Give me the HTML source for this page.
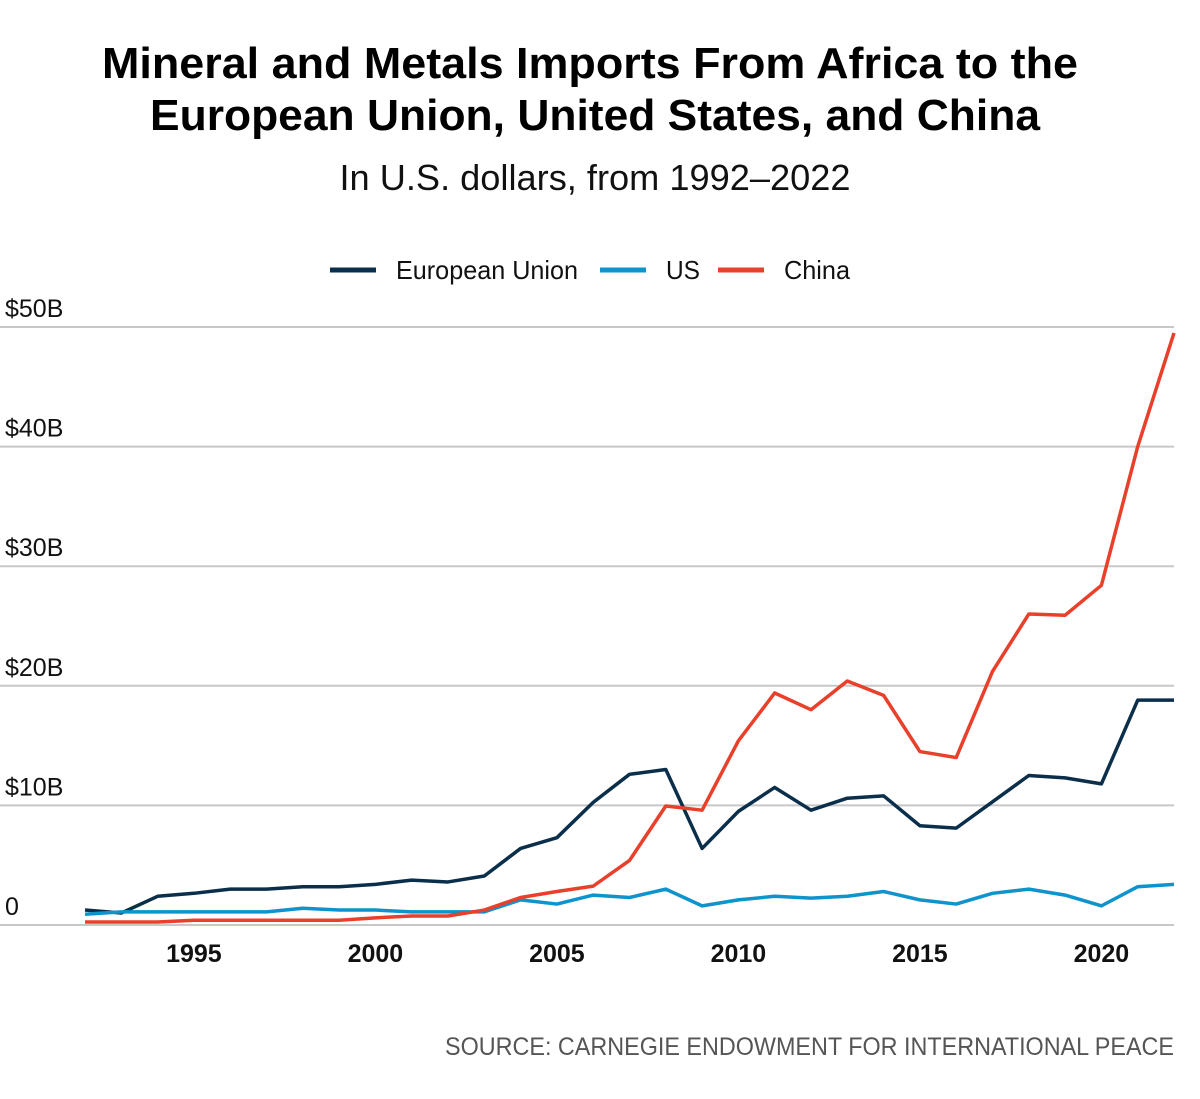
<!DOCTYPE html>
<html><head><meta charset="utf-8"><style>
body{margin:0;background:#fff;}
svg text{font-family:"Liberation Sans",sans-serif;}
</style></head><body>
<svg id="chart" width="1200" height="1094" viewBox="0 0 1200 1094" xmlns="http://www.w3.org/2000/svg">
<text x="590" y="78" text-anchor="middle" font-size="44" font-weight="bold" textLength="976" lengthAdjust="spacingAndGlyphs" fill="#000">Mineral and Metals Imports From Africa to the</text>
<text x="595" y="130" text-anchor="middle" font-size="44" font-weight="bold" textLength="890" lengthAdjust="spacingAndGlyphs" fill="#000">European Union, United States, and China</text>
<text x="595" y="190" text-anchor="middle" font-size="36" textLength="511" lengthAdjust="spacingAndGlyphs" fill="#111">In U.S. dollars, from 1992–2022</text>
<g id="legend"></g>
<g id="grid"></g>
<g id="series"></g>
<text x="1174" y="1055" text-anchor="end" font-size="25" textLength="729" lengthAdjust="spacingAndGlyphs" fill="#555">SOURCE: CARNEGIE ENDOWMENT FOR INTERNATIONAL PEACE</text>
</svg>
<script>
const years = [1992,1993,1994,1995,1996,1997,1998,1999,2000,2001,2002,2003,2004,2005,2006,2007,2008,2009,2010,2011,2012,2013,2014,2015,2016,2017,2018,2019,2020,2021,2022];
const euValues = [1.25,1.0,2.4,2.65,3.0,3.0,3.2,3.2,3.4,3.75,3.6,4.1,6.4,7.3,10.25,12.6,13.0,6.4,9.5,11.5,9.6,10.6,10.8,8.3,8.1,10.3,12.5,12.3,11.8,18.8,18.8];
const usValues = [0.9,1.1,1.1,1.1,1.1,1.1,1.4,1.25,1.25,1.1,1.1,1.1,2.1,1.75,2.5,2.3,3.0,1.6,2.1,2.4,2.25,2.4,2.8,2.1,1.75,2.65,3.0,2.5,1.6,3.2,3.4];
const chinaValues = [0.25,0.25,0.25,0.4,0.4,0.4,0.4,0.4,0.6,0.75,0.75,1.25,2.3,2.8,3.25,5.4,9.95,9.6,15.4,19.4,18.0,20.4,19.2,14.5,14.0,21.2,26.0,25.9,28.4,40.0,49.5];
const yTicks = [0,10,20,30,40,50];
const yTickLabels = ["0","$10B","$20B","$30B","$40B","$50B"];
const xTicks = [1995,2000,2005,2010,2015,2020];
const seriesNames = ["European Union","US","China"];

const NS="http://www.w3.org/2000/svg";
const x = yr => 85 + (yr-1992)*(1174-85)/30;
const y = v => 925 - v*(925-327)/50;
function mk(tag, attrs, parent){const e=document.createElementNS(NS,tag);for(const k in attrs)e.setAttribute(k,attrs[k]);parent.appendChild(e);return e;}
const grid=document.getElementById('grid'), ser=document.getElementById('series'), leg=document.getElementById('legend');
yTicks.forEach((t,i)=>{
  const l=mk('line',{x1:0,x2:1174,y1:y(t),y2:y(t),stroke:'#c8c8c8','stroke-width':2},grid);
  
  
  const tx=mk('text',{x:5,y:y(t)-10,'font-size':25,fill:'#111'},grid);
  tx.textContent=yTickLabels[i];
  
  
});
xTicks.forEach(t=>{
  const tx=mk('text',{x:x(t),y:962,'font-size':25,'text-anchor':'middle',fill:'#111','font-weight':'bold'},grid);
  tx.textContent=t;
  
  
});
const colors=['#0b2f4a','#0f93cc','#e8402a'];
[euValues,usValues,chinaValues].forEach((vals,si)=>{
  const p=mk('polyline',{points:vals.map((v,i)=>x(years[i])+','+y(v)).join(' '),fill:'none',stroke:colors[si],'stroke-width':3.5,'stroke-linejoin':'round'},ser);
  
  
});
const legX=[330,600,718], legW=[182,34,66];
seriesNames.forEach((n,i)=>{
  const l=mk('line',{x1:legX[i],x2:legX[i]+46,y1:270,y2:270,stroke:colors[i],'stroke-width':5},leg);
  
  
  const t=mk('text',{x:legX[i]+66,y:279,'font-size':26,fill:'#111',textLength:legW[i],lengthAdjust:'spacingAndGlyphs'},leg);
  t.textContent=n;
  
  
});
</script>
</body></html>
